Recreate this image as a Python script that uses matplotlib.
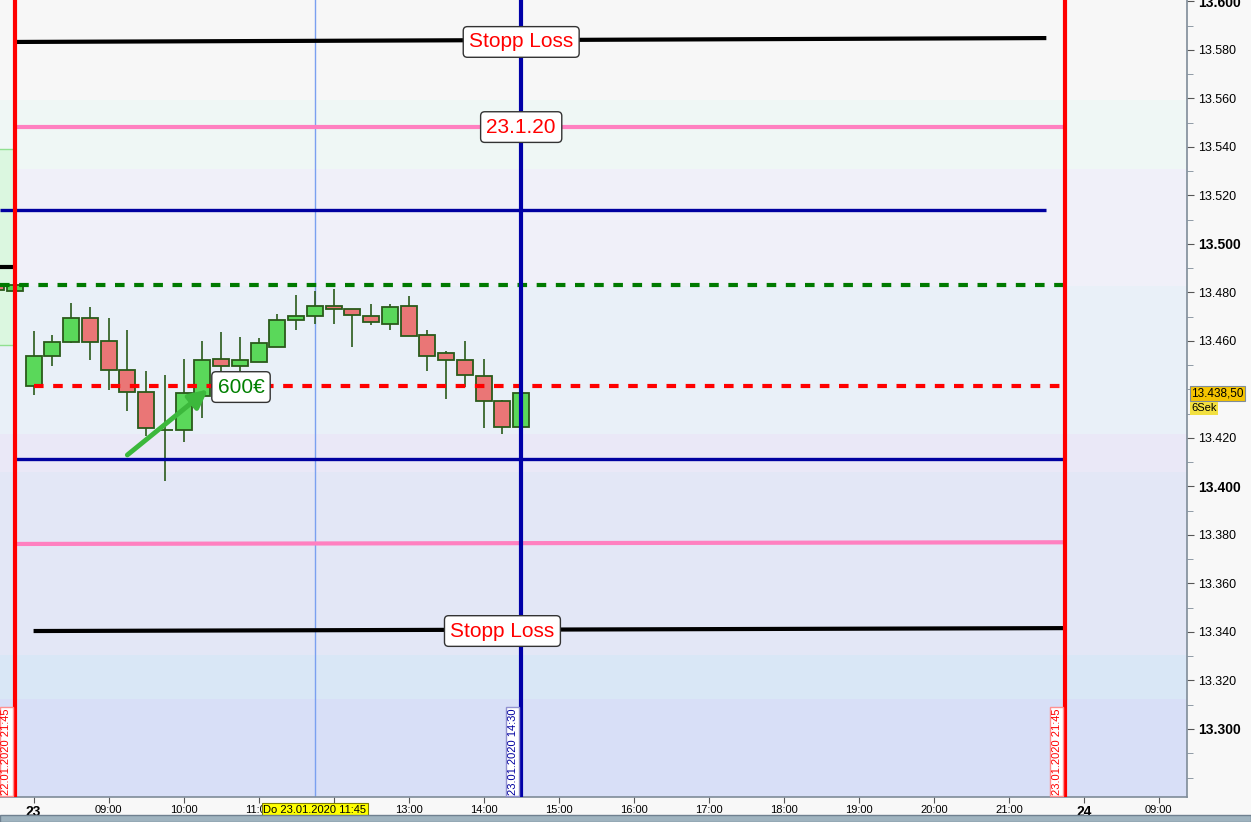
import matplotlib
matplotlib.use("Agg")
import matplotlib.pyplot as plt
from matplotlib.patches import Rectangle
from matplotlib.ticker import MultipleLocator, FuncFormatter, FixedLocator

plt.rcParams['font.family'] = ['Liberation Sans', 'DejaVu Sans']

# ---------------- data ----------------
bar_day = ["22", "22"] + ["23"] * 27
bar_time = ["21:30", "21:45",
            "08:00", "08:15", "08:30", "08:45", "09:00", "09:15", "09:30", "09:45",
            "10:00", "10:15", "10:30", "10:45", "11:00", "11:15", "11:30", "11:45",
            "12:00", "12:15", "12:30", "12:45", "13:00", "13:15", "13:30", "13:45",
            "14:00", "14:15", "14:30"]
opens = [13483.0, 13480.6, 13441.4, 13453.8, 13459.6, 13469.5, 13460.0, 13448.0, 13439.0, 13423.3,
         13423.3, 13437.3, 13452.6, 13449.7, 13451.3, 13457.5, 13468.7, 13470.3,
         13474.4, 13473.2, 13470.3, 13467.0, 13474.4, 13462.5, 13455.1, 13452.2,
         13445.6, 13435.3, 13424.5]
highs = [13484.0, 13484.0, 13464.1, 13462.5, 13475.7, 13474.0, 13469.5, 13464.5, 13447.6, 13446.0,
         13452.6, 13460.0, 13463.7, 13461.6, 13461.2, 13471.1, 13479.0, 13480.6,
         13481.4, 13473.2, 13475.3, 13475.3, 13478.6, 13464.5, 13456.0, 13460.0,
         13452.6, 13435.7, 13438.5]
lows = [13480.0, 13480.0, 13437.7, 13449.7, 13459.2, 13452.2, 13439.8, 13431.1, 13420.8, 13402.3,
        13418.4, 13428.2, 13446.0, 13447.0, 13451.3, 13457.5, 13464.5, 13467.0,
        13467.0, 13457.5, 13466.6, 13464.5, 13462.1, 13447.6, 13436.1, 13441.0,
        13424.1, 13421.6, 13424.5]
closes = [13481.0, 13483.1, 13453.8, 13459.6, 13469.5, 13459.6, 13448.0, 13439.0, 13424.1, 13423.3,
          13438.6, 13452.2, 13449.7, 13452.2, 13459.2, 13468.7, 13470.3, 13474.4,
          13473.2, 13470.7, 13467.8, 13474.0, 13462.1, 13453.8, 13452.2, 13446.0,
          13435.3, 13424.5, 13438.5]

last_price = 13438.5
last_label = "13.438,50"

# horizontal levels
stop_top = (13583.3, 13584.9)
target_top = 13548.2
blue_top = 13514.0
black_prev = 13490.5
green_dot = 13483.1
red_dot = 13441.4
blue_bot = 13411.3
target_bot = (13376.3, 13377.0)
stop_bot = (13340.4, 13341.6)

# labelled price ticks (13.440 hidden behind the price box, 13.280 not labelled)
price_ticks = [13300, 13320, 13340, 13360, 13380, 13400, 13420, 13460, 13480,
               13500, 13520, 13540, 13560, 13580, 13600]

# background zone boundaries (price) and colours
zone_edges = [13250, 13312.4, 13330.5, 13405.9, 13421.6, 13482.7, 13530.9, 13559.4, 13650]
zone_colors = ["#d8dff7", "#d9e7f6", "#e3e7f6", "#eae8f7", "#e9f0f8", "#f0f0f9", "#eff7f5", "#f7f7f7"]
prev_range = (13458.4, 13539.2)

hour_ticks = [("23", "08:00"), ("23", "09:00"), ("23", "10:00"), ("23", "11:00"), ("23", "12:00"),
              ("23", "13:00"), ("23", "14:00"), ("23", "15:00"), ("23", "16:00"), ("23", "17:00"),
              ("23", "18:00"), ("23", "19:00"), ("23", "20:00"), ("23", "21:00"),
              ("24", "08:00"), ("24", "09:00")]
hour_labels = ["23", "09:00", "10:00", "11:00", "", "13:00", "14:00", "15:00", "16:00",
               "17:00", "18:00", "19:00", "20:00", "21:00", "24", "09:00"]


def tidx(day, t):
    """Trading-time index in 15-min bars (session 08:00-22:00), 0 = 23.01 08:00."""
    h, m = map(int, t.split(":"))
    base = {"22": -56, "23": 0, "24": 56}[day]
    return base + (h - 8) * 4 + m / 15.0


x_prev_end = tidx("22", "21:45")
x_day_start = tidx("23", "08:00")
x_cursor = tidx("23", "11:45")
x_now = tidx("23", "14:30")
x_day_end = tidx("23", "21:45")
x_stop_end = tidx("23", "21:30")

# ---------------- figure ----------------
W, H = 1251, 822
fig = plt.figure(figsize=(W / 100, H / 100), dpi=100)
fig.patch.set_facecolor("#f8f8f8")
ax = fig.add_axes([0, 25 / H, 1187 / W, 797 / H])

xmin, xmax = -1.79, 61.5
ymin, ymax = 13271.96, 13600.6
ax.set_xlim(xmin, xmax)
ax.set_ylim(ymin, ymax)

# background zones
for lo, hi, c in zip(zone_edges[:-1], zone_edges[1:], zone_colors):
    ax.axhspan(lo, hi, color=c, zorder=0, lw=0)
ax.add_patch(Rectangle((xmin - 1, prev_range[0]), x_prev_end - xmin + 1, prev_range[1] - prev_range[0],
                       facecolor="#dbf7e0", edgecolor="#90e090", lw=1, zorder=0.5))

# candles
xs = [tidx(d, t) for d, t in zip(bar_day, bar_time)]
edge = "#2a5a1a"
for x, o, h, l, c in zip(xs, opens, highs, lows, closes):
    ax.vlines(x, l, h, color=edge, lw=1.2, zorder=3)
    col = "#5ad85a" if c >= o else "#ea7676"
    ax.bar(x, abs(c - o), bottom=min(o, c), width=0.85, color=col, edgecolor=edge, lw=1.3, zorder=4)

# horizontal lines
ax.plot([x_prev_end, x_stop_end], list(stop_top), color="black", lw=3, zorder=5, solid_capstyle="butt")
ax.plot([x_prev_end, x_day_end], [target_top, target_top], color="#ff80c0", lw=3, zorder=5, solid_capstyle="butt")
ax.plot([xmin, x_stop_end], [blue_top, blue_top], color="#0000a0", lw=2.4, zorder=5, solid_capstyle="butt")
ax.plot([xmin, x_prev_end], [black_prev, black_prev], color="black", lw=3, zorder=5, solid_capstyle="butt")
ax.plot([xmin, x_day_end], [green_dot, green_dot], color="#007a00", lw=3, ls=(0, (2.3, 2.3)), zorder=5)
ax.plot([x_day_start, x_day_end], [red_dot, red_dot], color="#ff0000", lw=3, ls=(0, (2.3, 2.3)), zorder=5)
ax.plot([x_prev_end, x_day_end], [blue_bot, blue_bot], color="#0000a0", lw=2.4, zorder=5, solid_capstyle="butt")
ax.plot([x_prev_end, x_day_end], list(target_bot), color="#ff80c0", lw=3, zorder=5, solid_capstyle="butt")
ax.plot([x_day_start, x_day_end], list(stop_bot), color="black", lw=3, zorder=5, solid_capstyle="butt")

# vertical lines
ax.axvline(x_cursor, color="#7aa0f0", lw=1, zorder=2)
ax.axvline(x_now, color="#0000a8", lw=3, zorder=6)
ax.axvline(x_prev_end, color="#ff0000", lw=3, zorder=6)
ax.axvline(x_day_end, color="#ff0000", lw=3, zorder=6)

# text boxes
box = dict(boxstyle="round,pad=0.28,rounding_size=0.2", fc="white", ec="#333333", lw=1)
ax.text(x_now, stop_top[0], "Stopp Loss", color="red", fontsize=15, ha="center", va="center", bbox=box, zorder=8)
ax.text(x_now, target_top, "23.1.20", color="red", fontsize=15, ha="center", va="center", bbox=box, zorder=8)
ax.text(x_now - 1.0, stop_bot[0], "Stopp Loss", color="red", fontsize=15, ha="center", va="center", bbox=box, zorder=8)
ax.text(tidx("23", "10:30") + 1.06, 13441.0, "600€", color="#008000", fontsize=15, ha="center", va="center",
        bbox=box, zorder=8)

# arrow
ax.annotate("", xy=(tidx("23", "10:00") + 1.3, 13440.0), xytext=(tidx("23", "09:15"), 13413.0),
            arrowprops=dict(arrowstyle="-|>,head_length=1.1,head_width=0.55", color="#3cb83c", lw=3.5,
                            shrinkA=0, shrinkB=0), zorder=7)

# vertical date labels
for x, txt, tc, ec in [(x_prev_end, "22.01.2020 21:45", "red", "#ff9090"),
                       (x_now, "23.01.2020 14:30", "#0000a0", "#9090d0"),
                       (x_day_end, "23.01.2020 21:45", "red", "#ff9090")]:
    ax.annotate(txt, xy=(x, ymin), xytext=(-2.5, 1.5), textcoords="offset points", rotation=90,
                ha="right", va="bottom", fontsize=8, color=tc, zorder=9,
                bbox=dict(boxstyle="square,pad=0.12", fc="white", ec=ec, lw=1))

# axes styling
for s in ["top", "left"]:
    ax.spines[s].set_visible(False)
ax.spines["right"].set_color("#7f8c99")
ax.spines["bottom"].set_color("#7f8c99")
ax.spines["right"].set_linewidth(1.2)
ax.spines["bottom"].set_linewidth(1.2)

ax.yaxis.tick_right()
ax.yaxis.set_major_locator(FixedLocator(price_ticks))
ax.yaxis.set_minor_locator(MultipleLocator(10))
ax.yaxis.set_major_formatter(FuncFormatter(lambda v, p: f"{v / 1000:.3f}"))
ax.tick_params(axis="y", which="major", length=5, color="#555555", labelsize=9, pad=3)
ax.tick_params(axis="y", which="minor", length=4, color="#7f8c99")
fig.canvas.draw()
for lab in ax.get_yticklabels():
    try:
        v = float(lab.get_text())
    except ValueError:
        continue
    if round(v * 1000) % 100 == 0:
        lab.set_fontweight("bold")
        lab.set_fontsize(10)

ax.set_xticks([tidx(d, t) for d, t in hour_ticks])
ax.set_xticklabels(hour_labels)
ax.tick_params(axis="x", length=4, color="#555555", labelsize=8, pad=2)
for lab in ax.get_xticklabels():
    if lab.get_text() in ("23", "24"):
        lab.set_fontweight("bold")
        lab.set_fontsize(10)

# cursor date box on x axis
ax.annotate("Do 23.01.2020 11:45", xy=(x_cursor, 0), xycoords=("data", "axes fraction"),
            xytext=(0, -9), textcoords="offset points", ha="center", va="center", fontsize=8,
            color="black", annotation_clip=False, zorder=10,
            bbox=dict(boxstyle="square,pad=0.15", fc="#ffff00", ec="#808000", lw=0.8))

# price boxes on y axis
ax.annotate(last_label, xy=(1, last_price), xycoords=("axes fraction", "data"), xytext=(3, 0),
            textcoords="offset points", ha="left", va="center", fontsize=8.5, annotation_clip=False, zorder=10,
            bbox=dict(boxstyle="square,pad=0.12", fc="#f5c400", ec="#7f8c99", lw=0.8))
ax.annotate("6Sek", xy=(1, last_price), xycoords=("axes fraction", "data"), xytext=(3, -11),
            textcoords="offset points", ha="left", va="center", fontsize=8, annotation_clip=False, zorder=10,
            bbox=dict(boxstyle="square,pad=0.12", fc="#f2e040", ec="none"))

# bottom status bar
fig.patches.append(Rectangle((0, 0), 1, 7 / H, transform=fig.transFigure, fc="#9fb3bf", ec="#6f8090",
                             lw=1, zorder=0))

fig.savefig("out.png", dpi=100, facecolor=fig.get_facecolor())
